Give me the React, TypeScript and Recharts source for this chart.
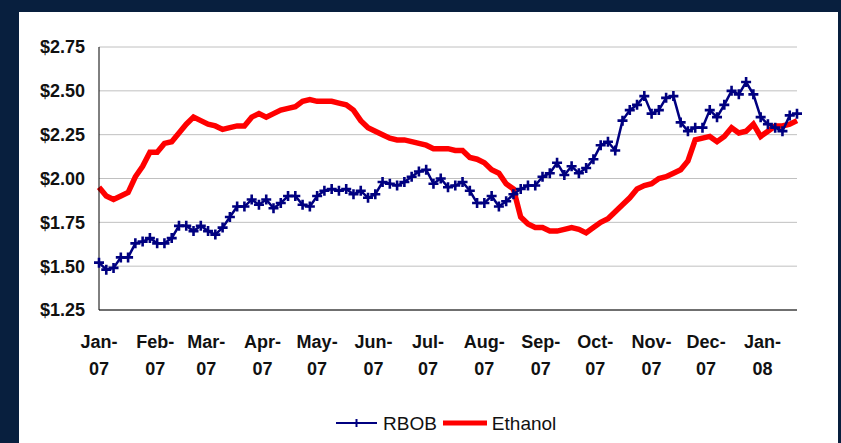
import { CartesianGrid, Legend, Line, LineChart, XAxis, YAxis } from "recharts";

const FONT = '"Liberation Sans", Arial, sans-serif';
const NAVY_BG = "#081f3e";
const RBOB_COLOR = "#000080";
const ETHANOL_COLOR = "#ff0000";

// one reading every 4 days, starting 1 Jan 2007
const DAY_STEP = 4;

const RBOB = [
  1.52, 1.48, 1.49, 1.55, 1.55, 1.63, 1.64, 1.66, 1.63, 1.63,
  1.66, 1.73, 1.73, 1.7, 1.73, 1.7, 1.68, 1.72, 1.78, 1.84,
  1.84, 1.88, 1.85, 1.88, 1.83, 1.86, 1.9, 1.9, 1.85, 1.84,
  1.9, 1.93, 1.94, 1.93, 1.94, 1.91, 1.93, 1.89, 1.91, 1.98,
  1.97, 1.96, 1.98, 2.01, 2.04, 2.05, 1.97, 2.0, 1.95, 1.96,
  1.98, 1.93, 1.86, 1.86, 1.9, 1.84, 1.87, 1.91, 1.94, 1.96,
  1.96, 2.01, 2.03, 2.09, 2.02, 2.07, 2.03, 2.06, 2.11, 2.19,
  2.21, 2.16, 2.33, 2.39, 2.42, 2.47, 2.37, 2.39, 2.46, 2.47,
  2.32, 2.27, 2.29, 2.29, 2.39, 2.35, 2.42, 2.5, 2.48, 2.55,
  2.48, 2.35, 2.31, 2.29, 2.27, 2.36, 2.37,
];

const ETHANOL = [
  1.95, 1.9, 1.88, 1.9, 1.92, 2.01, 2.07, 2.15, 2.15, 2.2,
  2.21, 2.26, 2.31, 2.35, 2.33, 2.31, 2.3, 2.28, 2.29, 2.3,
  2.3, 2.35, 2.37, 2.35, 2.37, 2.39, 2.4, 2.41, 2.44, 2.45,
  2.44, 2.44, 2.44, 2.43, 2.42, 2.39, 2.33, 2.29, 2.27, 2.25,
  2.23, 2.22, 2.22, 2.21, 2.2, 2.19, 2.17, 2.17, 2.17, 2.16,
  2.16, 2.12, 2.11, 2.09, 2.05, 2.03, 1.97, 1.94, 1.78, 1.74,
  1.72, 1.72, 1.7, 1.7, 1.71, 1.72, 1.71, 1.69, 1.72, 1.75,
  1.77, 1.81, 1.85, 1.89, 1.94, 1.96, 1.97, 2.0, 2.01, 2.03,
  2.05, 2.1, 2.22, 2.23, 2.24, 2.21, 2.24, 2.29, 2.26, 2.27,
  2.31, 2.24, 2.27, 2.3, 2.3, 2.31, 2.33,
];

const MONTH_TICKS = [0, 31, 59, 90, 120, 151, 181, 212, 243, 273, 304, 334, 365];
const MONTH_LABELS = [
  "Jan-07", "Feb-07", "Mar-07", "Apr-07", "May-07", "Jun-07", "Jul-07",
  "Aug-07", "Sep-07", "Oct-07", "Nov-07", "Dec-07", "Jan-08",
];
const PRICE_TICKS = [1.25, 1.5, 1.75, 2.0, 2.25, 2.5, 2.75];

const rows = RBOB.map((v, i) => ({
  day: i * DAY_STEP,
  rbob: v,
  ethanol: ETHANOL[i],
}));

function MonthTick(props: any) {
  const { x, y, payload } = props;
  const label = MONTH_LABELS[MONTH_TICKS.indexOf(payload.value)] ?? "";
  const [mon, yr] = label.split("-");
  return (
    <text
      x={x}
      y={y}
      textAnchor="middle"
      fill="#111"
      fontFamily={FONT}
      fontSize={18}
      fontWeight={700}
    >
      <tspan x={x} dy={30}>{mon}-</tspan>
      <tspan x={x} dy={27}>{yr}</tspan>
    </text>
  );
}

function PlusDot(props: any) {
  const { cx, cy, index } = props;
  if (cx == null || cy == null) return <g key={index} />;
  return (
    <path
      key={index}
      d={`M${cx - 5},${cy}h10M${cx},${cy - 5}v10`}
      stroke={RBOB_COLOR}
      strokeWidth={2.6}
      fill="none"
    />
  );
}

function ChartLegend() {
  const text = { fontFamily: FONT, fontSize: 19, color: "#111", lineHeight: 1 };
  return (
    <div style={{ display: "flex", alignItems: "center", height: 30, paddingLeft: 336 }}>
      <svg width={41} height={12}>
        <line x1={0} y1={6} x2={41} y2={6} stroke={RBOB_COLOR} strokeWidth={2} />
        <line x1={20.5} y1={2} x2={20.5} y2={10} stroke={RBOB_COLOR} strokeWidth={2} />
      </svg>
      <span style={{ ...text, marginLeft: 6 }}>RBOB</span>
      <svg width={44} height={12} style={{ marginLeft: 6 }}>
        <line x1={0} y1={6} x2={44} y2={6} stroke={ETHANOL_COLOR} strokeWidth={5} />
      </svg>
      <span style={{ ...text, marginLeft: 5 }}>Ethanol</span>
    </div>
  );
}

export default function App() {
  return (
    <div
      style={{
        position: "absolute",
        left: 0,
        top: 0,
        width: 841,
        height: 443,
        background: NAVY_BG,
        overflow: "hidden",
      }}
    >
      <div
        style={{
          position: "absolute",
          left: 19,
          top: 12,
          width: 819,
          height: 431,
          background: "#fff",
        }}
      />
      <div style={{ position: "absolute", left: 0, top: 0 }}>
        <LineChart
          width={841}
          height={443}
          data={rows}
          margin={{ top: 47, right: 44, left: 0, bottom: 5 }}
        >
          <CartesianGrid vertical={false} stroke="#c0c0c0" />
          <XAxis
            dataKey="day"
            type="number"
            domain={[0, 384]}
            ticks={MONTH_TICKS}
            interval={0}
            tick={<MonthTick />}
            tickLine={false}
            axisLine={{ stroke: "#000" }}
            height={98}
          />
          <YAxis
            domain={[1.25, 2.75]}
            ticks={PRICE_TICKS}
            interval={0}
            tickFormatter={(v: number) => `$${v.toFixed(2)}`}
            tick={{ fill: "#111", fontSize: 18, fontWeight: 700, fontFamily: FONT }}
            tickLine={false}
            tickMargin={8}
            axisLine={{ stroke: "#000" }}
            width={99}
          />
          <Legend
            verticalAlign="bottom"
            height={30}
            content={() => <ChartLegend />}
            wrapperStyle={{ left: 0, top: 408, bottom: "auto", width: 841 }}
          />
          <Line
            type="linear"
            dataKey="ethanol"
            name="Ethanol"
            stroke={ETHANOL_COLOR}
            strokeWidth={5.5}
            dot={false}
            isAnimationActive={false}
          />
          <Line
            type="linear"
            dataKey="rbob"
            name="RBOB"
            stroke={RBOB_COLOR}
            strokeWidth={2.5}
            dot={PlusDot}
            isAnimationActive={false}
          />
        </LineChart>
      </div>
    </div>
  );
}
